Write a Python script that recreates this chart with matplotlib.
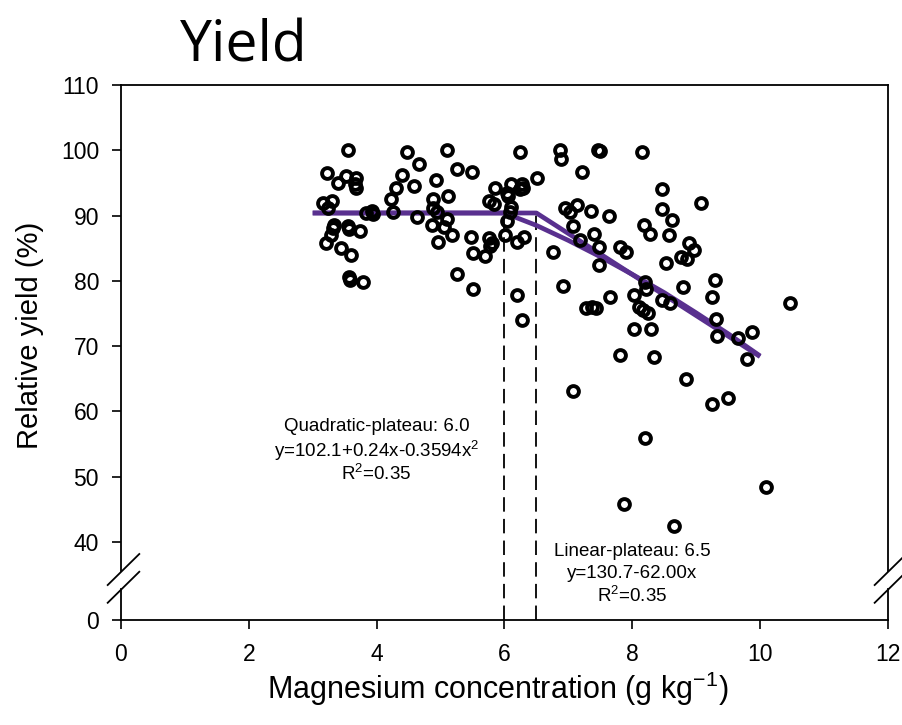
import numpy as np
import matplotlib
matplotlib.use("Agg")
import matplotlib.pyplot as plt

plt.rcParams['font.family'] = ['Liberation Sans', 'DejaVu Sans']
plt.rcParams['mathtext.default'] = 'regular'

# scatter data: Mg concentration (g/kg), relative yield (%)
mg = [3.55, 3.22, 3.40, 3.52, 3.67, 3.66, 3.68, 3.16, 3.30, 3.24,
      3.84, 3.92, 3.94, 3.33, 3.32, 3.56, 3.57, 3.74, 3.29, 3.21,
      3.45, 3.60, 3.57, 3.58, 3.79,
      4.47, 4.66, 4.39, 4.31, 4.59, 4.93, 4.22, 4.88, 4.26, 4.63,
      4.88, 4.94, 4.86, 4.96,
      5.10, 5.12, 5.05, 5.10, 5.25, 5.49, 5.18, 5.48, 5.25, 5.51,
      5.70, 5.51, 5.76, 5.83, 5.85, 5.76, 5.80, 5.77,
      6.24, 6.11, 6.27, 6.29, 6.24, 6.51, 6.04, 6.06, 6.11, 6.09,
      6.04, 6.01, 6.19, 6.30, 6.19, 6.27,
      6.87, 6.89, 7.46, 7.49, 8.15, 7.22, 8.46, 6.95, 7.03, 7.14,
      7.35, 7.63, 8.46, 9.07, 8.62, 7.08, 7.18, 7.40, 8.18, 8.28,
      8.57, 6.76, 7.48, 7.81, 7.90, 7.48, 6.92, 7.65, 8.20, 8.21,
      8.02, 7.28, 7.37, 7.44, 8.11, 8.17, 8.25, 8.02, 8.30, 7.81,
      8.34, 7.07, 8.53, 8.46, 8.59, 8.79, 8.84, 8.20, 7.87, 8.65,
      8.88, 8.96, 8.86, 8.76, 9.30, 9.24, 9.31, 9.33, 9.66, 9.88,
      9.79, 10.47, 9.24, 9.50, 10.09]
ryield = [100.0, 96.5, 95.0, 96.0, 95.8, 94.8, 94.2, 92.0, 92.2, 91.2,
          90.4, 90.7, 90.2, 88.6, 88.1, 88.4, 88.0, 87.6, 87.0, 85.8,
          85.1, 83.9, 80.6, 80.1, 79.9,
          99.8, 97.9, 96.2, 94.2, 94.6, 95.4, 92.5, 92.6, 90.6, 89.8,
          91.1, 90.6, 88.5, 86.0,
          100.0, 93.0, 88.2, 89.5, 97.1, 96.7, 87.1, 86.7, 81.0, 84.2,
          83.8, 78.8, 92.3, 91.8, 94.2, 86.5, 85.8, 85.3,
          99.8, 94.9, 94.9, 94.3, 94.0, 95.8, 93.4, 93.0, 91.3, 90.6,
          89.2, 87.1, 86.0, 86.7, 77.8, 74.0,
          100.0, 98.7, 100.0, 99.9, 99.8, 96.7, 94.1, 91.1, 90.6, 91.6,
          90.7, 90.0, 91.0, 91.9, 89.3, 88.4, 86.3, 87.2, 88.5, 87.2,
          87.1, 84.5, 85.2, 85.2, 84.4, 82.5, 79.2, 77.6, 79.8, 78.8,
          77.8, 75.8, 76.0, 75.8, 76.0, 75.5, 75.1, 72.7, 72.7, 68.6,
          68.3, 63.1, 82.8, 77.0, 76.6, 79.1, 64.9, 56.0, 45.8, 42.5,
          85.8, 84.8, 83.4, 83.7, 80.2, 77.6, 74.1, 71.5, 71.2, 72.1,
          68.1, 76.6, 61.2, 62.0, 48.5]

# fitted lines (vertices)
lp_x = [3.0, 6.5, 10.0]
lp_y = [90.4, 90.4, 68.4]
qp_x = [3.0, 6.0, 6.5, 7.0, 7.5, 8.0, 8.5, 9.0, 9.5, 10.0]
qp_y = [90.4, 90.4, 88.5, 86.2, 83.7, 81.0, 78.2, 75.1, 71.9, 68.5]
qp_join = 6.0
lp_join = 6.5

# broken axis: "0" sits at this position on the continuous scale
y_zero_pos = 28.05
ytick_vals = [40, 50, 60, 70, 80, 90, 100, 110]

fig = plt.figure(figsize=(9.02, 7.25), dpi=100)
ax = fig.add_axes([0.1341, 0.1448, 0.8503, 0.7379])

purple = '#59308f'
ax.plot(qp_x, qp_y, color=purple, lw=3.4, solid_capstyle='butt', zorder=3)
ax.plot(lp_x, lp_y, color=purple, lw=3.4, solid_capstyle='butt', zorder=3)
ax.plot([qp_join, qp_join], [y_zero_pos, 90.4], color='black', lw=1.3,
        dashes=(8, 4), zorder=2)
ax.plot([lp_join, lp_join], [y_zero_pos, 90.4], color='black', lw=1.3,
        dashes=(8, 4), zorder=2)
ax.plot(mg, ryield, 'o', ms=7.8, mfc='none', mec='black', mew=2.8, zorder=4)

ax.set_xlim(0, 12)
ax.set_ylim(y_zero_pos, 110)
ax.set_xticks([0, 2, 4, 6, 8, 10, 12])
ax.set_yticks([y_zero_pos] + ytick_vals)
ax.set_yticklabels(['0'] + [str(v) for v in ytick_vals])
ax.tick_params(labelsize=16.5, length=6.3, width=1.2, direction='out')
ax.tick_params(axis='x', pad=10)
ax.tick_params(axis='y', pad=9.5)

# spines with the break drawn by hand
for s in ['left', 'right']:
    ax.spines[s].set_visible(False)
for s in ['top', 'bottom']:
    ax.spines[s].set_linewidth(1.3)
gap_lo, gap_hi = 0.058, 0.092
for xs in [0, 1]:
    ax.plot([xs, xs], [0, gap_lo], transform=ax.transAxes, color='black',
            lw=1.3, clip_on=False)
    ax.plot([xs, xs], [gap_hi, 1], transform=ax.transAxes, color='black',
            lw=1.3, clip_on=False)
    for dy in [0.0322, 0.0654]:
        ax.plot([xs - 0.0173, xs + 0.0239], [dy, dy + 0.058],
                transform=ax.transAxes, color='black', lw=1.3, clip_on=False)

fs_note = 13.5
ax.text(4.0, 57.7, 'Quadratic-plateau: 6.0', ha='center', va='center', fontsize=fs_note)
ax.text(4.0, 54.0, 'y=102.1+0.24x-0.3594x$^2$', ha='center', va='center', fontsize=fs_note)
ax.text(4.0, 50.4, 'R$^2$=0.35', ha='center', va='center', fontsize=fs_note)
ax.text(8.0, 38.6, 'Linear-plateau: 6.5', ha='center', va='center', fontsize=fs_note)
ax.text(8.0, 35.2, 'y=130.7-62.00x', ha='center', va='center', fontsize=fs_note)
ax.text(8.0, 31.8, 'R$^2$=0.35', ha='center', va='center', fontsize=fs_note)

ax.set_xlabel('Magnesium concentration (g kg$^{-1}$)', fontsize=22)
ax.xaxis.set_label_coords(0.491, -0.093, transform=ax.transAxes)
ax.set_ylabel('Relative yield (%)', fontsize=21)
ax.yaxis.set_label_coords(-0.1004, 0.533, transform=ax.transAxes)

fig.text(0.1996, 0.9145, 'Yield', fontsize=41, family=['Open Sans', 'DejaVu Sans'],
         ha='left', va='baseline')

fig.savefig('out.png', dpi=100)
